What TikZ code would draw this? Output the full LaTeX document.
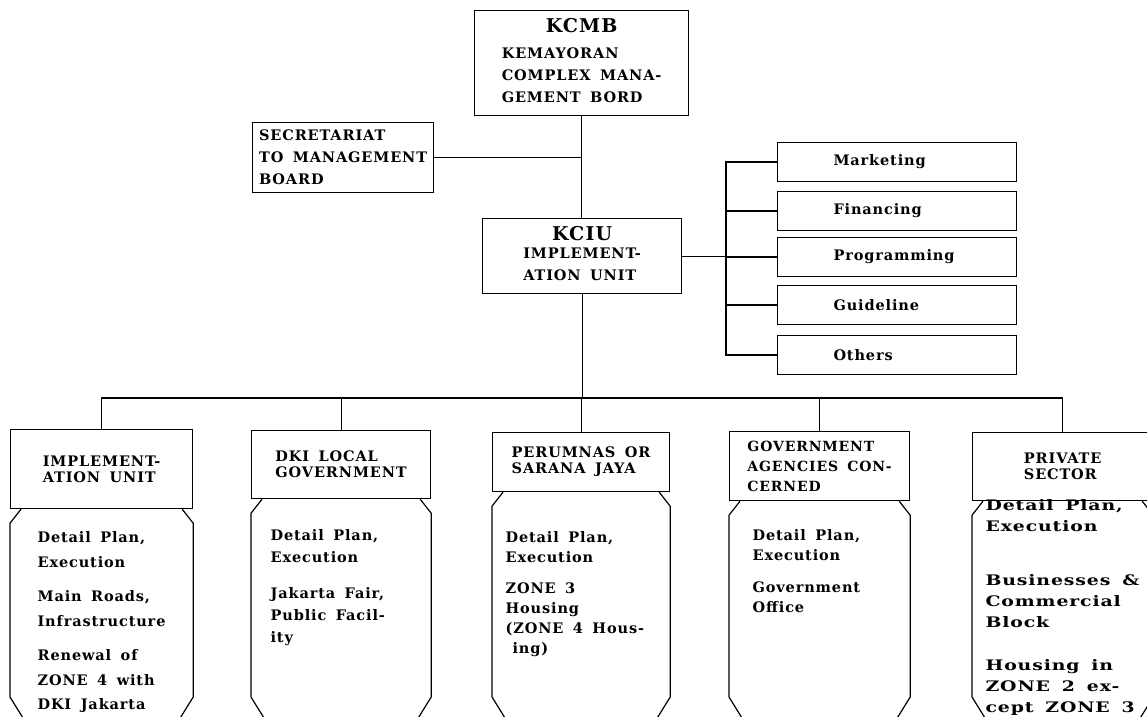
\documentclass[tikz,border=0pt]{standalone}
\usepackage{fontspec}
\setmainfont{DejaVu Serif}[LetterSpace=6,WordSpace=1.6]
\usetikzlibrary{positioning,calc}

\begin{document}
\begin{tikzpicture}[
  x=1pt, y=-1pt,
  font=\bfseries\fontsize{14.5}{22}\selectfont,
  line width=1.2pt,
  box/.style={draw, line width=1.2pt, inner sep=0pt, align=left, anchor=north west},
  hdbox/.style={box, font=\bfseries\fontsize{14.5}{16}\selectfont},
  subbox/.style={draw, line width=1.2pt, inner sep=0pt, minimum width=239, minimum height=39, text width=127, align=left},
  body/.style={anchor=north west, inner sep=0pt, align=left},
]
\useasboundingbox (0,0) rectangle (1147,716);
\clip (0,0) rectangle (1147,716);
% board
\node[box, minimum width=214, minimum height=105] (kcmb) at (474,10)
  {\begin{tabular}{@{}l@{}}\multicolumn{1}{@{}c@{}}{\fontsize{19}{22}\selectfont KCMB}\\[4pt]
   KEMAYORAN\\ COMPLEX MANA-\\ GEMENT BORD\end{tabular}};
\node[box, minimum width=181, minimum height=70] (sec) at (252,122) {SECRETARIAT\\TO MANAGEMENT\\BOARD};
% unit
\node[box, minimum width=199, minimum height=75] (kciu) at (482,218)
  {\begin{tabular}{@{}l@{}}\multicolumn{1}{@{}c@{}}{\fontsize{19}{22}\selectfont KCIU}\\[-4pt]
   \fontsize{14.5}{17}\selectfont IMPLEMENT-\\ ATION UNIT\end{tabular}};
% sections
\node[subbox] (mkt) at (897,162) {Marketing};
\node[subbox] (fin) at (897,211) {Financing};
\node[subbox] (prg) at (897,257) {Programming};
\node[subbox] (gdl) at (897,305) {Guideline};
\node[subbox] (oth) at (897,355) {Others};
% executing bodies
\node[hdbox, minimum width=182, minimum height=79] (h1) at (10,429) {IMPLEMENT-\\ATION UNIT};
\node[hdbox, minimum width=179, minimum height=68] (h2) at (251,430) {DKI LOCAL\\GOVERNMENT};
\node[hdbox, minimum width=177, minimum height=59] (h3) at (492,432) {PERUMNAS OR\\SARANA JAYA};
\node[hdbox, minimum width=180, minimum height=69, font=\bfseries\fontsize{14}{20}\selectfont] (h4) at (729,431)
  {GOVERNMENT\\AGENCIES CON-\\CERNED};
\node[hdbox, minimum width=180, minimum height=68] (h5) at (972,432) {PRIVATE\\SECTOR};
% tasks
\node[body, font=\bfseries\fontsize{14.5}{24.5}\selectfont] (t1) at (37,531)
  {Detail Plan,\\Execution\\[10pt]Main Roads,\\Infrastructure\\[10pt]Renewal of\\ZONE 4 with\\DKI Jakarta};
\node[body] (t2) at (270,529) {Detail Plan,\\Execution\\[14pt]Jakarta Fair,\\Public Facil-\\ity};
\node[body, font=\bfseries\fontsize{14.5}{20}\selectfont] (t3) at (505,531)
  {Detail Plan,\\Execution\\[11pt]ZONE 3\\Housing\\(ZONE 4 Hous-\\\hspace*{7pt}ing)};
\node[body, font=\bfseries\fontsize{14.5}{20}\selectfont] (t4) at (752,529) {Detail Plan,\\Execution\\[12pt]Government\\Office};
\node[body, font=\bfseries\fontsize{14.5}{21}\selectfont\addfontfeature{FakeStretch=1.3}] (t5) at (985,499)
  {Detail Plan,\\Execution\\[33pt]Businesses \&\\Commercial\\Block\\[22pt]Housing in\\ZONE 2 ex-\\cept ZONE 3};
% lines
\coordinate (bus) at (0,398);
\coordinate (rail) at (726,0);
\draw (kcmb.south) -- (kcmb.south |- kciu.north);
\draw (sec.east) -- (sec.east -| kcmb.south);
\draw (kciu.south) -- (kciu.south |- bus);
\draw (h1.north) -- (h1.north |- bus) -- (h5.north |- bus) -- (h5.north);
\foreach \h in {h2,h3,h4} \draw (\h.north |- bus) -- (\h.north);
\draw (kciu.east) -- (kciu.east -| rail);
\draw (mkt.west) -- (mkt.west -| rail) -- (oth.west -| rail) -- (oth.west);
\foreach \s in {fin,prg,gdl} \draw (\s.west -| rail) -- (\s.west);
% chamfered sides
\foreach \h in {h1,h2,h3,h4,h5} {
  \draw ([xshift=11]\h.south west) -- ++(-11,14) -- (\h.south west |- 0,697) -- ++(13,21);
  \draw ([xshift=-11]\h.south east) -- ++(11,14) -- (\h.south east |- 0,697) -- ++(-13,21);
}
\end{tikzpicture}
\end{document}
